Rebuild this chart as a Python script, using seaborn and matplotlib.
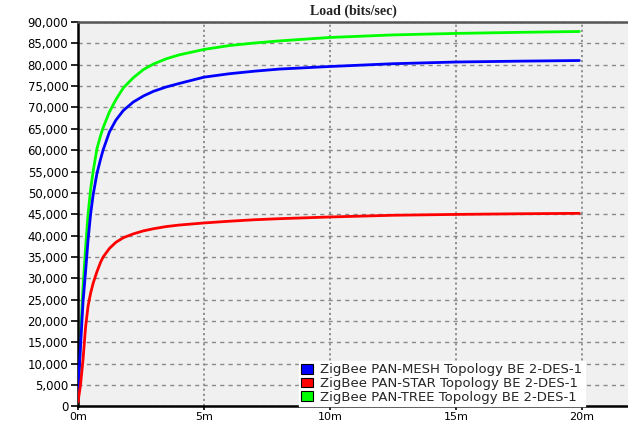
import numpy as np
import pandas as pd
import seaborn as sns
import matplotlib.pyplot as plt
from matplotlib.patches import Patch
from matplotlib.ticker import FuncFormatter, MultipleLocator

# Simulation time (minutes)
time_min = [0, 0.1, 0.2, 0.3, 0.4, 0.5, 0.6, 0.75, 0.9, 1.0, 1.25, 1.5, 1.8,
            2.2, 2.6, 3.0, 3.5, 4.0, 5.0, 6.0, 7.0, 8.0, 10.0, 12.5, 15.0,
            17.5, 19.9]

# Average load (bits/sec) per topology
mesh_load = [3000, 14000, 24500, 31500, 39000, 45000, 49500, 54500, 58000,
             60100, 64300, 67000, 69300, 71300, 72700, 73800, 74800, 75600,
             77100, 77900, 78500, 79000, 79600, 80250, 80650, 80850, 81000]
star_load = [1000, 5000, 11000, 18500, 23500, 26500, 28800, 31500, 33800,
             35000, 37000, 38400, 39500, 40400, 41100, 41600, 42100, 42450,
             42950, 43350, 43700, 43950, 44350, 44750, 44950, 45100, 45200]
tree_load = [3000, 16000, 28000, 37000, 45000, 50800, 55000, 60300, 63500,
             65300, 69000, 71800, 74600, 77000, 78900, 80200, 81400, 82300,
             83600, 84500, 85100, 85600, 86400, 87000, 87350, 87600, 87800]

series_names = ["ZigBee PAN-MESH Topology BE 2-DES-1",
                "ZigBee PAN-STAR Topology BE 2-DES-1",
                "ZigBee PAN-TREE Topology BE 2-DES-1"]
series_colors = ["#0000ff", "#ff0000", "#00ff00"]
series_z = [3, 4, 2]

df = pd.concat([
    pd.DataFrame({"time": time_min, "load": vals, "series": name})
    for name, vals in zip(series_names, [mesh_load, star_load, tree_load])
])

sns.set_style("ticks")
plt.rcParams["font.family"] = ["DejaVu Sans"]

fig = plt.figure(figsize=(6.28, 4.25), dpi=100)
ax = fig.add_axes([0.1242, 0.0440, 0.8758, 0.904])
ax.set_facecolor("#f0f0f0")

for name, color, z in zip(series_names, series_colors, series_z):
    sns.lineplot(data=df[df["series"] == name], x="time", y="load",
                 color=color, linewidth=2, ax=ax, zorder=z, legend=False)

ax.set_xlim(0, 21.83)
ax.set_ylim(0, 90000)
ax.xaxis.set_major_locator(MultipleLocator(5))
ax.yaxis.set_major_locator(MultipleLocator(5000))
ax.xaxis.set_major_formatter(FuncFormatter(lambda v, p: f"{v:.0f}m"))
ax.yaxis.set_major_formatter(FuncFormatter(lambda v, p: f"{v:,.0f}"))
ax.set_xlabel("")
ax.set_ylabel("")

ax.grid(axis="y", color="#8a8a8a", linestyle=(0, (3, 3)), linewidth=1)
ax.grid(axis="x", color="#8a8a8a", linestyle=(0, (1.2, 1.6)), linewidth=1.3)
ax.set_axisbelow(True)

for side in ("left", "bottom"):
    ax.spines[side].set_color("black")
    ax.spines[side].set_linewidth(1.8)
ax.spines["top"].set_color("#555555")
ax.spines["top"].set_linewidth(1.8)
ax.spines["right"].set_visible(False)

ax.tick_params(axis="y", direction="out", length=5, width=1.2,
               color="black", labelsize=8.5, labelcolor="black", pad=2)
ax.tick_params(axis="x", direction="out", length=3, width=1.2,
               color="black", labelsize=8, labelcolor="black", pad=1)

ax.set_title("Load (bits/sec)", family="Liberation Serif", fontweight="bold",
             fontsize=10, color="#222222", pad=5)

handles = [Patch(facecolor=c, edgecolor="black", linewidth=0.8)
           for c in series_colors]
leg = ax.legend(handles, series_names, loc="lower left",
                bbox_to_anchor=(0.4, 0.0), frameon=True, fontsize=9.5,
                handlelength=0.9, handleheight=0.75, handletextpad=0.6,
                labelspacing=0.05, borderpad=0.15, borderaxespad=0.05,
                fancybox=False)
leg.get_frame().set_facecolor("white")
leg.get_frame().set_edgecolor("white")
leg.get_frame().set_alpha(1)
leg.set_zorder(10)

fig.savefig("out.png", dpi=100, facecolor="white")
